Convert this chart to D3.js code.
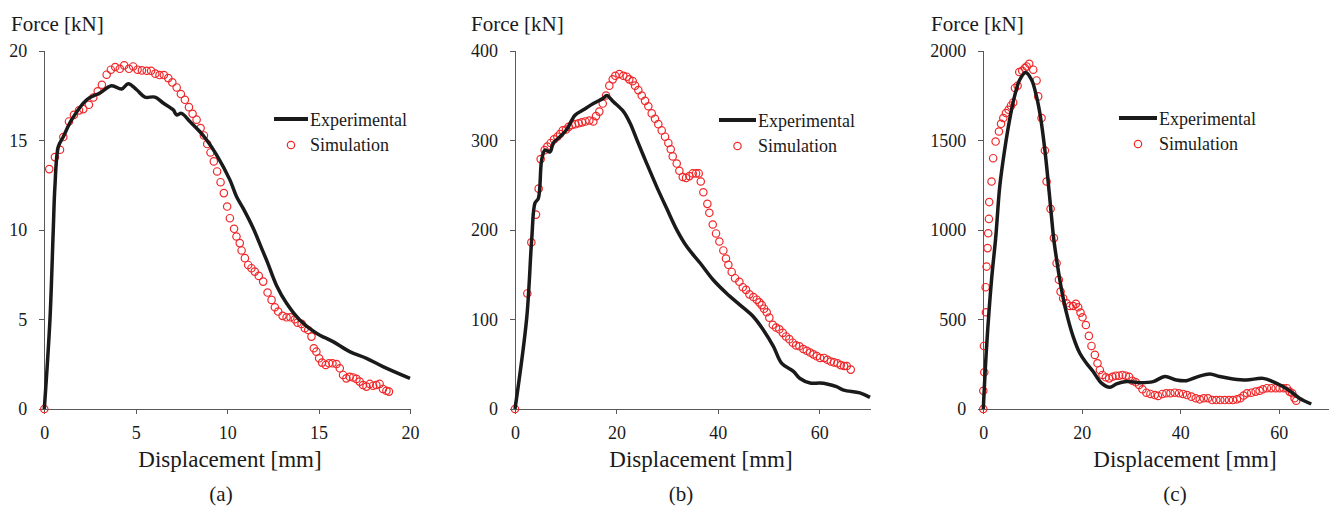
<!DOCTYPE html>
<html>
<head>
<meta charset="utf-8">
<script src="https://cdn.jsdelivr.net/npm/d3@7"></script>
<style>
	body { margin: 0; background: #fff; }
	svg text { font-family: "Liberation Serif", "Times New Roman", "DejaVu Serif", serif; fill: #1a1a1a; }
	.axis path, .axis line { stroke: #595959; stroke-width: 1; shape-rendering: crispEdges; }
	.axis text { font-size: 18px; }
</style>
</head>
<body>
<div id="vis"></div>
<script>

// (a) displacement [mm], force [kN]
var expA = [[0,0],[0.31,5],[0.49,10],[0.58,12.4],[0.77,14.65],[1.04,15.2],[1.5,16.15],[2.32,17.26],[3.04,17.64],[3.68,18.04],[4.23,17.86],[4.59,18.16],[5.05,17.82],[5.5,17.41],[6.05,17.41],[6.5,17.08],[7.05,16.7],[7.23,16.42],[7.5,16.5],[7.96,16.05],[8.5,15.49],[8.87,15.03],[9.42,14.19],[10.15,12.79],[10.51,11.86],[10.87,11.21],[11.42,10.1],[11.88,8.98],[12.2,8.2],[12.7,6.9],[13.25,5.9],[13.97,4.97],[14.88,4.23],[15.79,3.76],[16.7,3.2],[17.62,2.83],[18.52,2.37],[20,1.71]];
var simA = [[0,0],[0.27,13.39],[0.58,14.06],[0.86,14.47],[1.04,15.18],[1.35,16.05],[1.62,16.42],[1.9,16.67],[2.13,16.74],[2.44,16.98],[2.68,17.39],[2.92,17.73],[3.15,18.1],[3.41,18.66],[3.64,18.94],[3.88,19.09],[4.13,18.99],[4.37,19.18],[4.63,18.99],[4.86,19.12],[5.1,18.94],[5.34,18.9],[5.6,18.88],[5.84,18.88],[6.07,18.72],[6.3,18.64],[6.54,18.64],[6.78,18.47],[7.0,18.23],[7.24,17.95],[7.47,17.58],[7.69,17.26],[7.91,16.85],[8.11,16.48],[8.33,16.15],[8.55,15.68],[8.73,15.27],[8.91,14.79],[9.09,14.32],[9.27,13.82],[9.45,13.26],[9.64,12.66],[9.82,12.05],[10.0,11.3],[10.15,10.65],[10.38,10.06],[10.51,9.63],[10.69,9.26],[10.79,8.85],[10.97,8.42],[11.15,8.04],[11.33,7.86],[11.51,7.67],[11.73,7.43],[11.97,7.11],[12.21,6.5],[12.43,6.09],[12.61,5.68],[12.79,5.44],[13.03,5.2],[13.25,5.12],[13.46,5.12],[13.7,5.01],[13.85,4.82],[14.07,4.75],[14.25,4.51],[14.43,4.41],[14.61,4.04],[14.74,3.39],[14.88,3.2],[15.03,2.83],[15.19,2.59],[15.39,2.46],[15.57,2.55],[15.76,2.55],[15.98,2.51],[16.16,2.27],[16.34,1.9],[16.52,1.71],[16.7,1.8],[16.89,1.76],[17.07,1.68],[17.25,1.53],[17.43,1.34],[17.62,1.25],[17.8,1.4],[17.98,1.3],[18.16,1.34],[18.34,1.4],[18.52,1.12],[18.71,1.02],[18.85,0.97]];

// (b)
var expB = [[0,0],[2.3,101],[3.3,190],[3.95,230],[4.6,235],[5.26,278],[5.92,289],[6.9,287],[7.56,297],[8.88,304],[10.2,312],[11.83,328],[13.48,334],[15.45,341],[17.4,347],[18.1,350],[19.4,343],[21.4,332],[22.7,319],[24,301],[25.98,274],[27.95,248],[29.9,224],[31.9,200],[33.9,181],[36.5,163],[39.1,144],[41.75,129],[44.4,116],[47,103],[49,88],[50.95,70],[52.6,51],[54.9,42],[56.2,34],[58.2,29],[60.1,29],[61.5,28],[63.4,25],[64.8,21],[68,18],[70,13]];
var simB = [[0,0],[2.43,129],[3.22,186],[4.14,217],[4.67,246],[5.06,279],[5.85,289],[6.37,293],[7.04,297],[7.69,301],[8.35,304],[8.88,307],[9.4,311],[10.06,312],[10.59,315],[11.24,317],[11.9,318],[12.56,319],[13.2,320],[13.87,321],[14.66,322],[15.45,321],[15.98,327],[16.63,332],[17.3,341],[17.95,350],[18.6,361],[19.27,368],[19.78,372],[20.57,374],[21.36,372],[22.03,371],[22.54,368],[23.21,366],[23.67,361],[24.32,356],[24.99,350],[25.64,344],[26.29,338],[26.96,330],[27.61,324],[28.26,318],[28.93,311],[29.59,304],[30.24,297],[30.71,290],[31.1,282],[31.89,274],[32.41,266],[33.08,259],[33.73,258],[34.38,260],[35.05,263],[35.7,263],[36.23,263],[36.63,254],[37.14,242],[37.93,229],[38.32,219],[38.99,206],[39.64,196],[40.3,187],[41.08,177],[41.6,168],[42.07,161],[42.73,153],[43.39,146],[44.24,142],[44.91,136],[45.56,133],[46.22,128],[47.0,125],[47.67,122],[48.19,119],[48.66,116],[49.11,112],[49.64,108],[50.15,102],[50.83,94],[51.48,91],[52.13,89],[52.8,85],[53.45,81],[54.1,78],[54.77,74],[55.42,71],[56.08,70],[56.86,67],[57.53,65],[58.19,63],[58.84,61],[59.5,59],[60.16,57],[60.95,57],[61.6,55],[62.27,53],[62.92,52],[63.57,51],[64.24,49],[64.89,48],[65.42,48],[66.21,44]];

// (c)
var expC = [[0,0],[0.67,348],[1.67,720],[2.53,960],[3.34,1242],[4.34,1447],[5.34,1614],[6.34,1745],[7.4,1838],[8.6,1879],[9.8,1838],[10.8,1745],[11.6,1633],[12.5,1447],[13.2,1261],[13.85,1074],[14.3,950],[15.0,814],[15.9,665],[16.9,535],[18.25,404],[19.6,311],[20.95,255],[22.3,209],[24.0,144],[25.7,121],[27.05,140],[29.1,153],[31.8,147],[34.5,153],[36.85,181],[39.2,162],[41.25,158],[43.6,181],[46.0,196],[48.0,181],[50.7,168],[53.4,162],[56.8,171],[58.8,153],[60.85,125],[62.9,88],[64.2,60],[66.6,28]];
var simC = [[0,0],[0,102],[0.2,205],[0.13,352],[0.53,540],[0.47,680],[0.67,795],[0.87,898],[1.0,981],[1.14,1061],[1.2,1155],[1.67,1270],[2.0,1400],[2.5,1493],[3.18,1549],[3.6,1592],[4.06,1624],[4.6,1652],[5.14,1670],[5.62,1693],[6.08,1711],[6.43,1792],[6.97,1804],[7.3,1881],[7.9,1888],[8.46,1903],[8.8,1912],[9.33,1927],[10.14,1894],[10.82,1834],[11.15,1745],[11.83,1624],[12.51,1443],[12.85,1270],[13.66,1117],[14.34,954],[14.88,814],[15.35,721],[15.69,655],[16.22,618],[16.9,590],[17.58,575],[18.25,575],[18.8,587],[19.27,568],[19.74,538],[20.15,512],[20.83,469],[21.44,408],[21.97,352],[22.65,302],[23.19,255],[23.67,218],[24.2,190],[24.88,177],[25.55,171],[26.23,180],[26.91,186],[27.58,186],[28.26,190],[28.94,186],[29.61,180],[30.29,158],[30.97,149],[31.64,134],[32.32,110],[33.13,91],[33.94,84],[34.82,78],[35.49,73],[36.37,84],[37.18,88],[38.0,88],[38.88,91],[39.75,88],[40.56,84],[41.37,78],[42.26,69],[43.14,60],[43.95,54],[44.76,60],[45.63,60],[46.51,50],[47.32,50],[48.13,50],[49.02,50],[49.9,50],[50.7,50],[51.51,54],[52.19,60],[52.87,75],[53.54,88],[54.42,91],[55.3,97],[56.11,102],[56.78,110],[57.6,116],[58.48,116],[59.36,116],[60.17,116],[60.98,116],[61.65,116],[62.2,97],[62.74,88],[63.21,60],[63.55,46]];

var xTicksA = [0, 5, 10, 15, 20];
var yTicksA = [0, 5, 10, 15, 20];
var xTicksB = [0, 20, 40, 60];
var yTicksB = [0, 100, 200, 300, 400];
var xTicksC = [0, 20, 40, 60];
var yTicksC = [0, 500, 1000, 1500, 2000];

var seriesNames = ["Experimental", "Simulation"];
var panelLabels = ["(a)", "(b)", "(c)"];
var yTitle = "Force [kN]";
var xTitle = "Displacement [mm]";

var width = 1330, height = 508;
var y0 = 409, y1 = 50.7;
var serif = '"Liberation Serif", "Times New Roman", "DejaVu Serif", serif';

var svg = d3.select("#vis").append("svg")
	.attr("width", width)
	.attr("height", height);

var panels = [
	{ exp: expA, sim: simA, xt: xTicksA, yt: yTicksA, xd: [0, 20], yd: [0, 20], x0: 44.3, x1: 410, title: 11, xtitle: 230, lab: 221, leg: [274, 308, 119] },
	{ exp: expB, sim: simB, xt: xTicksB, yt: yTicksB, xd: [0, 70], yd: [0, 400], x0: 515, x1: 870, title: 471, xtitle: 701, lab: 681, leg: [719, 756, 120] },
	{ exp: expC, sim: simC, xt: xTicksC, yt: yTicksC, xd: [0, 70], yd: [0, 2000], x0: 983.3, x1: 1328, title: 931, xtitle: 1185, lab: 1175, leg: [1119, 1157, 118] }
];

panels.forEach(function(p, i) {

	var xScale = d3.scaleLinear().domain(p.xd).range([p.x0, p.x1]);
	var yScale = d3.scaleLinear().domain(p.yd).range([y0, y1]);

	var g = svg.append("g");

	g.append("g")
		.attr("class", "axis")
		.attr("transform", "translate(0," + y0 + ")")
		.call(d3.axisBottom(xScale).tickValues(p.xt).tickFormat(d3.format("d"))
			.tickSize(5).tickSizeOuter(0).tickPadding(12))
		.attr("font-family", serif);

	g.append("g")
		.attr("class", "axis")
		.attr("transform", "translate(" + p.x0 + ",0)")
		.call(d3.axisLeft(yScale).tickValues(p.yt).tickFormat(d3.format("d"))
			.tickSize(5).tickSizeOuter(0).tickPadding(12))
		.attr("font-family", serif);

	// simulation markers
	g.selectAll(".sim")
		.data(p.sim)
		.enter()
		.append("circle")
		.attr("class", "sim")
		.attr("cx", function (d) { return xScale(d[0]); })
		.attr("cy", function (d) { return yScale(d[1]); })
		.attr("r", 3.7)
		.style("fill", "none")
		.style("stroke", "#f0282a")
		.style("stroke-width", 1.2);

	// experimental curve
	var line = d3.line()
		.curve(d3.curveCatmullRom.alpha(0.5))
		.x(function (d) { return xScale(d[0]); })
		.y(function (d) { return yScale(d[1]); });

	g.append("path")
		.datum(p.exp)
		.attr("d", line)
		.style("fill", "none")
		.style("stroke", "#1a1a1a")
		.style("stroke-width", 3.5)
		.style("stroke-linejoin", "round");

	// titles
	g.append("text")
		.attr("x", p.title)
		.attr("y", 31)
		.style("font-family", serif)
		.style("font-size", "21px")
		.text(yTitle);

	g.append("text")
		.attr("x", p.xtitle)
		.attr("y", 467)
		.attr("text-anchor", "middle")
		.style("font-family", serif)
		.style("font-size", "23px")
		.text(xTitle);

	g.append("text")
		.attr("x", p.lab)
		.attr("y", 501)
		.attr("text-anchor", "middle")
		.style("font-family", serif)
		.style("font-size", "21px")
		.text(panelLabels[i]);

	// legend
	var lx0 = p.leg[0], lx1 = p.leg[1], ly = p.leg[2];

	g.append("line")
		.attr("x1", lx0).attr("x2", lx1)
		.attr("y1", ly).attr("y2", ly)
		.style("stroke", "#1a1a1a")
		.style("stroke-width", 4);

	g.append("circle")
		.attr("cx", (lx0 + lx1) / 2)
		.attr("cy", ly + 26)
		.attr("r", 3.7)
		.style("fill", "none")
		.style("stroke", "#f0282a")
		.style("stroke-width", 1.2);

	g.append("text")
		.attr("x", lx1 + 2)
		.attr("y", ly + 7)
		.style("font-family", serif)
		.style("font-size", "18px")
		.text(seriesNames[0]);

	g.append("text")
		.attr("x", lx1 + 2)
		.attr("y", ly + 32)
		.style("font-family", serif)
		.style("font-size", "18px")
		.text(seriesNames[1]);

});

</script>
</body>
</html>
